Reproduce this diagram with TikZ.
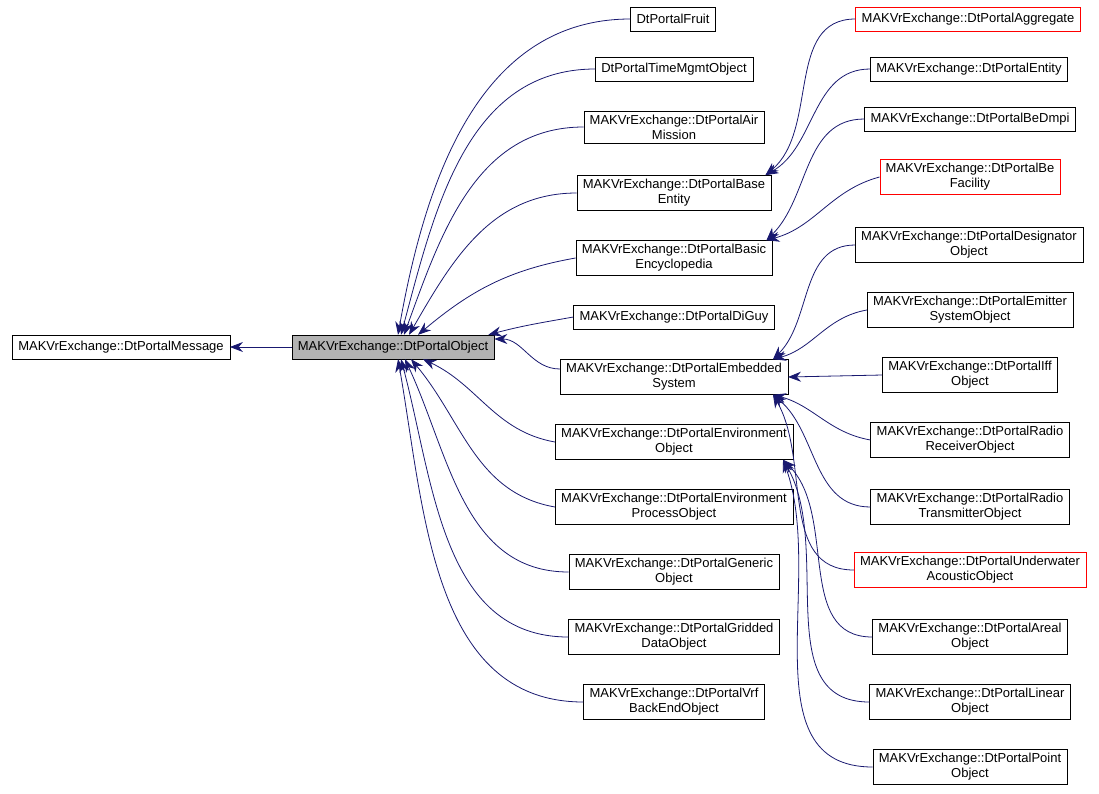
\documentclass[tikz,border=0pt]{standalone}
\usepackage{fontspec}
\setmainfont{Liberation Sans}
\usetikzlibrary{arrows.meta}
\definecolor{edgeblue}{HTML}{191970}
\tikzset{
  cls/.style={draw, fill=white, align=center, inner xsep=6pt, inner ysep=4pt, minimum height=24pt, font=\fontsize{13}{15}\selectfont},
  bad/.style={cls, draw=red},
  edge/.style={draw=edgeblue, <-, >={Stealth[length=13pt,width=10pt]}, line width=0.8pt},
}
\begin{document}
\begin{tikzpicture}[x=1pt,y=-1pt]
\useasboundingbox (0,0) rectangle (1099,793);
% base classes
\node[cls] (msg) at (121,347) {MAKVrExchange::DtPortalMessage};
\node[cls, fill=black!30] (obj) at (393,347) {MAKVrExchange::DtPortalObject};
% second column
\node[cls] (fruit) at (673,19) {DtPortalFruit};
\node[cls] (time) at (674,69) {DtPortalTimeMgmtObject};
\node[cls] (air) at (674,127) {MAKVrExchange::DtPortalAir\\Mission};
\node[cls] (base) at (674,193) {MAKVrExchange::DtPortalBase\\Entity};
\node[cls] (ency) at (674,258) {MAKVrExchange::DtPortalBasic\\Encyclopedia};
\node[cls] (diguy) at (674,317) {MAKVrExchange::DtPortalDiGuy};
\node[cls] (emb) at (674,377) {MAKVrExchange::DtPortalEmbedded\\System};
\node[cls] (env) at (674,442) {MAKVrExchange::DtPortalEnvironment\\Object};
\node[cls] (envp) at (674,507) {MAKVrExchange::DtPortalEnvironment\\ProcessObject};
\node[cls] (gen) at (674,572) {MAKVrExchange::DtPortalGeneric\\Object};
\node[cls] (grid) at (674,637) {MAKVrExchange::DtPortalGridded\\DataObject};
\node[cls] (vrf) at (674,702) {MAKVrExchange::DtPortalVrf\\BackEndObject};
% third column
\node[bad] (agg) at (968,19) {MAKVrExchange::DtPortalAggregate};
\node[cls] (ent) at (969,69) {MAKVrExchange::DtPortalEntity};
\node[cls] (dmpi) at (970,119) {MAKVrExchange::DtPortalBeDmpi};
\node[bad] (fac) at (970,177) {MAKVrExchange::DtPortalBe\\Facility};
\node[cls] (des) at (969,245) {MAKVrExchange::DtPortalDesignator\\Object};
\node[cls] (emit) at (970,310) {MAKVrExchange::DtPortalEmitter\\SystemObject};
\node[cls] (iff) at (970,375) {MAKVrExchange::DtPortalIff\\Object};
\node[cls] (rrx) at (970,440) {MAKVrExchange::DtPortalRadio\\ReceiverObject};
\node[cls] (rtx) at (970,507) {MAKVrExchange::DtPortalRadio\\TransmitterObject};
\node[bad] (uw) at (970,570) {MAKVrExchange::DtPortalUnderwater\\AcousticObject};
\node[cls] (areal) at (970,637) {MAKVrExchange::DtPortalAreal\\Object};
\node[cls] (lin) at (970,702) {MAKVrExchange::DtPortalLinear\\Object};
\node[cls] (pt) at (970,767) {MAKVrExchange::DtPortalPoint\\Object};
% edges
\draw[edge] (msg) -- (obj);
\draw[edge] ([xshift=5pt]obj.north) to[out=80,in=180] (fruit.west);
\draw[edge] ([xshift=8pt]obj.north) to[out=75,in=180] (time.west);
\draw[edge] ([xshift=11pt]obj.north) to[out=70,in=180] (air.west);
\draw[edge] ([xshift=16pt]obj.north) to[out=60,in=180] (base.west);
\draw[edge] ([xshift=25pt]obj.north) to[out=40,in=190] (ency.west);
\draw[edge] ([xshift=-6pt]obj.north east) to[out=15,in=190] (diguy.west);
\draw[edge] ([yshift=8pt]obj.east) to[out=0,in=180] ([yshift=8pt]emb.west);
\draw[edge] ([xshift=30pt]obj.south) to[out=-25,in=170] (env.west);
\draw[edge] ([xshift=18pt]obj.south) to[out=-50,in=170] (envp.west);
\draw[edge] ([xshift=12pt]obj.south) to[out=-65,in=180] (gen.west);
\draw[edge] ([xshift=8pt]obj.south) to[out=-75,in=180] (grid.west);
\draw[edge] ([xshift=5pt]obj.south) to[out=-80,in=180] (vrf.west);
% third column edges
\draw[edge] ([xshift=-6pt]base.north east) to[out=40,in=180] (agg.west);
\draw[edge] ([xshift=-6pt]base.north east) to[out=30,in=180] (ent.west);
\draw[edge] ([xshift=-6pt]ency.north east) to[out=45,in=180] (dmpi.west);
\draw[edge] ([xshift=-6pt]ency.north east) to[out=15,in=195] (fac.west);
\draw[edge] ([xshift=-15pt]emb.north east) to[out=45,in=180] (des.west);
\draw[edge] ([xshift=-15pt]emb.north east) to[out=15,in=190] (emit.west);
\draw[edge] (emb.east) -- (iff.west);
\draw[edge] ([xshift=-15pt]emb.south east) to[out=-15,in=170] (rrx.west);
\draw[edge] ([xshift=-15pt]emb.south east) to[out=-40,in=180] (rtx.west);
\draw[edge] ([xshift=-15pt]emb.south east) to[out=-60,in=180] (uw.west);
\draw[edge] ([xshift=-10pt]env.south east) to[out=-45,in=180] (areal.west);
\draw[edge] ([xshift=-10pt]env.south east) to[out=-60,in=180] (lin.west);
\draw[edge] ([xshift=-10pt]env.south east) to[out=-70,in=180] (pt.west);
\end{tikzpicture}
\end{document}
